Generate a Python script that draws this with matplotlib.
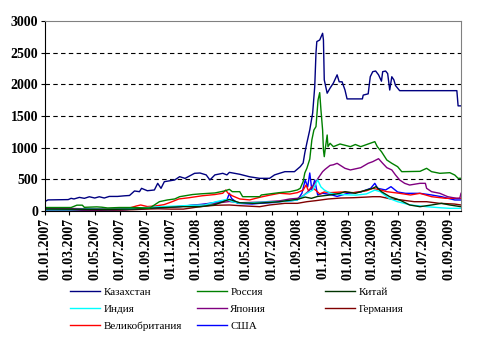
import pandas as pd
import matplotlib
matplotlib.use("Agg")
import matplotlib.pyplot as plt
import matplotlib.dates as mdates

# Spread series, 2007-2009
kz_dates = ["2007-01-01", "2007-01-08", "2007-02-26", "2007-03-05", "2007-03-12", "2007-03-25",
            "2007-04-06", "2007-04-18", "2007-05-01", "2007-05-12", "2007-05-24", "2007-06-05",
            "2007-06-25", "2007-07-12", "2007-07-24", "2007-08-05", "2007-08-17", "2007-08-22",
            "2007-09-05", "2007-09-22", "2007-09-30", "2007-10-08", "2007-10-16", "2007-11-10",
            "2007-11-22", "2007-12-05", "2007-12-28", "2008-01-10", "2008-01-25", "2008-02-03",
            "2008-02-15", "2008-03-05", "2008-03-15", "2008-03-21", "2008-04-15", "2008-05-09",
            "2008-06-02", "2008-06-26", "2008-07-08", "2008-07-20", "2008-08-02", "2008-08-25",
            "2008-09-08", "2008-09-15", "2008-09-19", "2008-09-24", "2008-10-01", "2008-10-08",
            "2008-10-13", "2008-10-16", "2008-10-18", "2008-10-25", "2008-11-01", "2008-11-03",
            "2008-11-05", "2008-11-12", "2008-11-19", "2008-11-27", "2008-12-06", "2008-12-11",
            "2008-12-18", "2008-12-25", "2008-12-30", "2009-02-05", "2009-02-07", "2009-02-19",
            "2009-02-24", "2009-03-02", "2009-03-09", "2009-03-16", "2009-03-23", "2009-03-26",
            "2009-04-02", "2009-04-07", "2009-04-12", "2009-04-17", "2009-04-22", "2009-04-26",
            "2009-05-06", "2009-09-21", "2009-09-24", "2009-10-01"]
kz_vals = [150, 175, 180, 200, 190, 215, 200, 225, 205, 225, 205, 230, 230, 240, 245, 316,
           305, 358, 320, 332, 437, 358, 463, 490, 542, 515, 595, 600, 570, 490, 570, 595,
           570, 610, 580, 540, 516, 516, 570, 595, 621, 621, 700, 758, 916, 1074, 1280, 1548,
           1964, 2495, 2675, 2700, 2806, 2700, 2070, 1860, 1940, 2020, 2150, 2040, 2040, 1910,
           1770, 1770, 1830, 1850, 2120, 2200, 2210, 2150, 2050, 2200, 2210, 2170, 1910, 2120,
           2070, 1980, 1900, 1900, 1660, 1660]

ru_dates = ["2007-01-01", "2007-03-05", "2007-03-19", "2007-04-01", "2007-04-06", "2007-05-06",
            "2007-05-18", "2007-06-01", "2007-06-29", "2007-08-05", "2007-09-10", "2007-09-22",
            "2007-10-04", "2007-10-23", "2007-11-10", "2007-11-22", "2007-12-23", "2008-01-10",
            "2008-02-15", "2008-03-09", "2008-03-21", "2008-03-28", "2008-04-15", "2008-04-22",
            "2008-06-02", "2008-06-06", "2008-07-20", "2008-08-14", "2008-09-01", "2008-09-08",
            "2008-09-15", "2008-09-19", "2008-09-24", "2008-10-01", "2008-10-06", "2008-10-11",
            "2008-10-16", "2008-10-21", "2008-10-25", "2008-10-28", "2008-11-01", "2008-11-03",
            "2008-11-05", "2008-11-07", "2008-11-12", "2008-11-14", "2008-11-19", "2008-11-27",
            "2008-12-13", "2009-01-07", "2009-01-19", "2009-02-01", "2009-02-19", "2009-03-07",
            "2009-03-13", "2009-03-23", "2009-04-05", "2009-04-17", "2009-05-01", "2009-05-11",
            "2009-06-24", "2009-07-10", "2009-07-22", "2009-08-11", "2009-09-04", "2009-09-16",
            "2009-09-24", "2009-10-01"]
ru_vals = [55, 55, 92, 92, 58, 65, 60, 48, 55, 55, 45, 95, 147, 174, 190, 226, 260, 270, 285,
           316, 342, 305, 305, 226, 226, 253, 290, 305, 332, 358, 463, 600, 674, 820, 1121,
           1279, 1332, 1753, 1869, 1595, 1279, 963, 858, 963, 1200, 1016, 1069, 1016, 1058,
           1016, 1050, 1016, 1058, 1095, 1016, 937, 805, 753, 700, 621, 626, 674, 621, 595,
           605, 568, 516, 516]

cn_dates = ["2007-01-01", "2007-06-01", "2007-08-01", "2007-09-01", "2007-10-01", "2007-11-01",
            "2007-12-01", "2008-01-10", "2008-02-15", "2008-03-21", "2008-04-15", "2008-05-20",
            "2008-06-26", "2008-07-20", "2008-08-14", "2008-09-01", "2008-09-20", "2008-10-05",
            "2008-10-20", "2008-11-19", "2008-12-13", "2008-12-25", "2009-01-19", "2009-02-15",
            "2009-03-02", "2009-03-10", "2009-03-23", "2009-04-12", "2009-05-06", "2009-05-30",
            "2009-06-24", "2009-07-22", "2009-08-15", "2009-09-04", "2009-10-01"]
cn_vals = [30, 25, 30, 40, 50, 60, 68, 68, 100, 184, 130, 121, 135, 147, 170, 184, 220, 200,
           230, 253, 279, 305, 279, 332, 358, 385, 305, 226, 174, 95, 68, 95, 121, 95, 68]

in_dates = ["2007-01-01", "2007-03-01", "2007-04-15", "2007-06-01", "2007-07-15", "2007-08-15",
            "2007-09-15", "2007-10-15", "2007-11-22", "2007-12-20", "2008-01-21", "2008-02-20",
            "2008-03-15", "2008-03-28", "2008-04-15", "2008-06-02", "2008-07-20", "2008-08-14",
            "2008-09-01", "2008-09-24", "2008-10-08", "2008-10-20", "2008-10-28", "2008-11-05",
            "2008-11-20", "2008-12-15", "2009-01-20", "2009-02-15", "2009-03-07", "2009-03-20",
            "2009-04-10", "2009-05-01", "2009-06-01", "2009-07-10", "2009-08-15", "2009-09-04",
            "2009-10-01"]
in_vals = [20, 20, 30, 25, 30, 45, 60, 70, 80, 90, 95, 150, 184, 147, 121, 137, 147, 160, 174,
           279, 330, 490, 380, 332, 280, 260, 250, 270, 330, 305, 200, 147, 95, 68, 50, 42, 42]

jp_dates = ["2007-01-01", "2007-03-01", "2007-06-01", "2007-08-01", "2007-09-01", "2007-10-01",
            "2007-11-01", "2007-12-01", "2008-01-15", "2008-02-15", "2008-03-21", "2008-04-15",
            "2008-06-02", "2008-07-20", "2008-08-14", "2008-09-01", "2008-09-15", "2008-10-01",
            "2008-10-15", "2008-10-21", "2008-11-01", "2008-11-07", "2008-11-19", "2008-11-27",
            "2008-12-06", "2008-12-25", "2009-01-07", "2009-02-01", "2009-02-19", "2009-03-02",
            "2009-03-16", "2009-03-26", "2009-04-05", "2009-04-17", "2009-04-26", "2009-05-06",
            "2009-05-18", "2009-05-30", "2009-06-24", "2009-07-07", "2009-07-10", "2009-07-22",
            "2009-08-11", "2009-08-30", "2009-09-20", "2009-09-28", "2009-10-01"]
jp_vals = [35, 40, 30, 35, 40, 50, 60, 80, 100, 120, 150, 130, 140, 160, 190, 200, 240, 330,
           450, 516, 621, 658, 720, 730, 753, 674, 648, 684, 753, 779, 826, 753, 684, 648, 568,
           490, 437, 410, 437, 437, 358, 305, 279, 226, 200, 200, 279]

de_dates = ["2007-01-01", "2007-07-01", "2007-08-01", "2007-09-01", "2007-10-01", "2007-11-01",
            "2007-12-01", "2008-01-10", "2008-02-15", "2008-03-21", "2008-04-15", "2008-06-02",
            "2008-06-26", "2008-08-02", "2008-09-01", "2008-09-24", "2008-10-15", "2008-11-15",
            "2008-12-15", "2009-01-15", "2009-02-15", "2009-03-02", "2009-03-20", "2009-04-15",
            "2009-05-10", "2009-06-10", "2009-07-10", "2009-08-10", "2009-09-15", "2009-10-01"]
de_vals = [20, 15, 20, 30, 35, 30, 30, 68, 90, 95, 84, 68, 95, 121, 121, 147, 163, 190, 205,
           210, 220, 226, 226, 190, 174, 147, 147, 121, 110, 95]

uk_dates = ["2007-01-01", "2007-03-01", "2007-04-15", "2007-06-01", "2007-07-15", "2007-08-10",
            "2007-08-20", "2007-09-05", "2007-09-25", "2007-10-15", "2007-11-01", "2007-11-20",
            "2007-12-15", "2008-01-15", "2008-02-15", "2008-03-05", "2008-03-12", "2008-03-18",
            "2008-03-28", "2008-04-15", "2008-05-09", "2008-06-02", "2008-06-26", "2008-07-20",
            "2008-08-14", "2008-09-01", "2008-09-15", "2008-09-22", "2008-09-28", "2008-10-05",
            "2008-10-15", "2008-10-25", "2008-11-05", "2008-11-20", "2008-12-15", "2009-01-15",
            "2009-02-15", "2009-03-02", "2009-03-20", "2009-04-05", "2009-05-06", "2009-06-01",
            "2009-06-24", "2009-07-22", "2009-08-25", "2009-10-01"]
uk_vals = [30, 30, 25, 25, 30, 80, 95, 70, 80, 100, 140, 190, 210, 240, 260, 280, 330, 280,
           240, 190, 175, 216, 250, 280, 268, 290, 330, 410, 316, 380, 330, 270, 300, 290, 300,
           290, 320, 358, 332, 305, 279, 253, 279, 226, 200, 200]

us_dates = ["2007-01-01", "2007-06-01", "2007-07-15", "2007-08-15", "2007-09-15", "2007-10-15",
            "2007-11-22", "2007-12-20", "2008-01-21", "2008-02-20", "2008-03-15", "2008-03-21",
            "2008-03-26", "2008-04-10", "2008-05-15", "2008-06-02", "2008-07-08", "2008-07-20",
            "2008-08-14", "2008-09-01", "2008-09-12", "2008-09-20", "2008-09-26", "2008-10-01",
            "2008-10-06", "2008-10-13", "2008-10-20", "2008-11-01", "2008-11-20", "2008-12-06",
            "2009-01-01", "2009-02-01", "2009-02-25", "2009-03-07", "2009-03-14", "2009-04-02",
            "2009-04-15", "2009-05-01", "2009-05-20", "2009-06-24", "2009-07-22", "2009-08-15",
            "2009-09-16", "2009-10-01"]
us_vals = [15, 12, 20, 40, 55, 60, 68, 90, 110, 140, 174, 279, 200, 121, 110, 121, 135, 147,
           160, 174, 279, 490, 380, 600, 332, 490, 253, 280, 260, 230, 280, 300, 358, 437, 358,
           332, 384, 300, 279, 279, 253, 226, 174, 174]

series = [
    ("Казахстан", kz_dates, kz_vals, "#000080"),
    ("Россия", ru_dates, ru_vals, "#008000"),
    ("Китай", cn_dates, cn_vals, "#003300"),
    ("Индия", in_dates, in_vals, "#00FFFF"),
    ("Япония", jp_dates, jp_vals, "#800080"),
    ("Германия", de_dates, de_vals, "#800000"),
    ("Великобритания", uk_dates, uk_vals, "#FF0000"),
    ("США", us_dates, us_vals, "#0000FF"),
]
y_ticks = [0, 500, 1000, 1500, 2000, 2500, 3000]

fig = plt.figure(figsize=(4.78, 3.43), dpi=100)
ax = fig.add_axes([45 / 478, 1 - 211 / 343, 416 / 478, 190 / 343])

# draw the small series first so the big ones sit on top
handles = {}
for name, d, v, c in reversed(series):
    handles[name], = ax.plot(pd.to_datetime(d), v, color=c, lw=1.0)

ax.set_xlim(pd.Timestamp("2007-01-01"), pd.Timestamp("2009-10-01"))
ax.set_ylim(0, 3000)
ax.set_yticks(y_ticks)
for yv in y_ticks[1:-1]:
    ax.axhline(yv, color="black", lw=0.8, ls=(0, (4, 3)), zorder=0)

ax.xaxis.set_major_locator(mdates.MonthLocator(bymonth=[1, 3, 5, 7, 9, 11]))
ax.xaxis.set_major_formatter(mdates.DateFormatter("%d.%m.%Y"))
tick_font = dict(family="Liberation Serif", weight="bold", size=10)
for lab in ax.get_xticklabels():
    lab.set(rotation=90, **tick_font)
for lab in ax.get_yticklabels():
    lab.set(**tick_font)
ax.tick_params(axis="both", direction="out", length=3, width=0.8, color="black", pad=2)

for s in ("top", "right"):
    ax.spines[s].set_color("#808080")
for s in ("left", "bottom"):
    ax.spines[s].set_color("black")

# legend laid out row by row in three fixed columns
cols = [["Казахстан", "Индия", "Великобритания"],
        ["Россия", "Япония", "США"],
        ["Китай", "Германия"]]
col_x = [70 / 478, 197 / 478, 325 / 478]
for names, x0 in zip(cols, col_x):
    fig.legend([handles[n] for n in names], names, loc="upper left",
               bbox_to_anchor=(x0, 1 - 287 / 343), frameon=False,
               prop=dict(family="Liberation Serif", size=8),
               handlelength=2.7, handletextpad=0.3, labelspacing=0.65,
               borderpad=0, borderaxespad=0)

fig.savefig("out.png", dpi=100)
